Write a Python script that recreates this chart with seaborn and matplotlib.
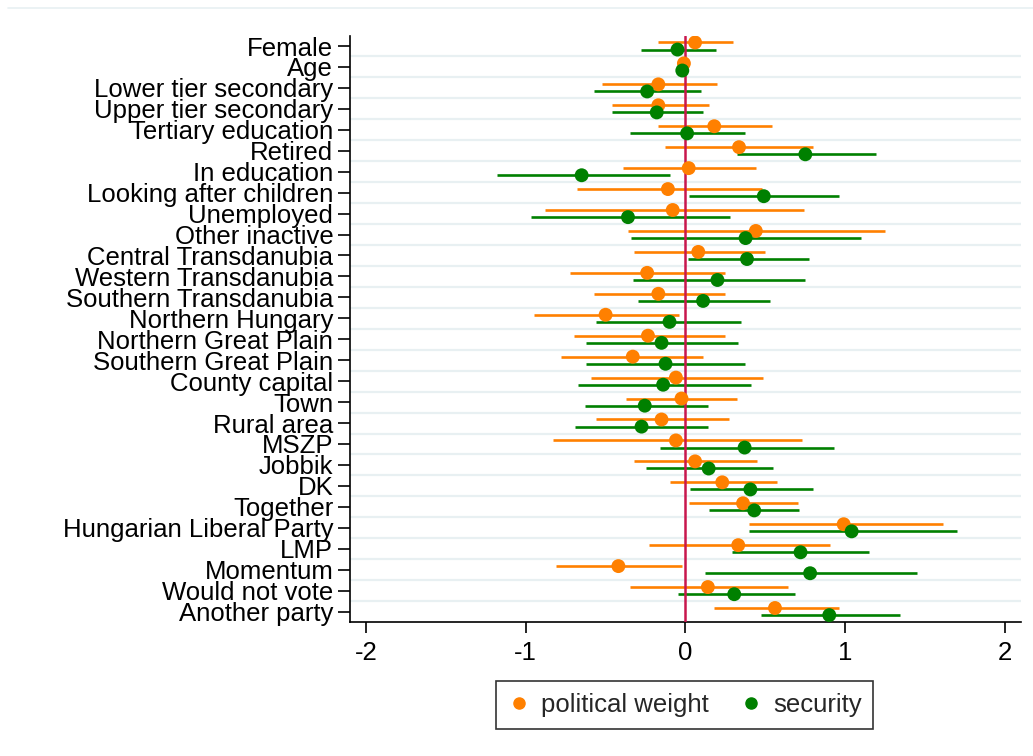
import numpy as np
import pandas as pd
import matplotlib
matplotlib.use("Agg")
import matplotlib.pyplot as plt
from matplotlib.lines import Line2D
import seaborn as sns

categories = ["Female", "Age", "Lower tier secondary", "Upper tier secondary",
              "Tertiary education", "Retired", "In education", "Looking after children",
              "Unemployed", "Other inactive", "Central Transdanubia", "Western Transdanubia",
              "Southern Transdanubia", "Northern Hungary", "Northern Great Plain",
              "Southern Great Plain", "County capital", "Town", "Rural area", "MSZP",
              "Jobbik", "DK", "Together", "Hungarian Liberal Party", "LMP", "Momentum",
              "Would not vote", "Another party"]

pw_coef = [0.06, -0.01, -0.17, -0.17, 0.18, 0.335, 0.02, -0.11, -0.08, 0.44,
           0.08, -0.24, -0.17, -0.50, -0.235, -0.33, -0.06, -0.025, -0.15, -0.06,
           0.06, 0.23, 0.36, 0.99, 0.33, -0.42, 0.14, 0.56]
pw_lo = [-0.175, -0.03, -0.52, -0.46, -0.17, -0.13, -0.39, -0.68, -0.88, -0.36,
         -0.32, -0.72, -0.57, -0.95, -0.70, -0.78, -0.59, -0.37, -0.56, -0.83,
         -0.32, -0.10, 0.02, 0.40, -0.23, -0.81, -0.35, 0.18]
pw_hi = [0.30, 0.01, 0.20, 0.15, 0.54, 0.80, 0.44, 0.48, 0.74, 1.25,
         0.50, 0.25, 0.25, -0.04, 0.25, 0.11, 0.485, 0.32, 0.275, 0.73,
         0.45, 0.57, 0.705, 1.61, 0.905, -0.02, 0.64, 0.96]

sec_coef = [-0.05, -0.02, -0.24, -0.18, 0.01, 0.75, -0.65, 0.49, -0.36, 0.376,
            0.385, 0.20, 0.11, -0.10, -0.15, -0.125, -0.14, -0.255, -0.275, 0.37,
            0.145, 0.406, 0.43, 1.04, 0.72, 0.78, 0.305, 0.90]
sec_lo = [-0.28, -0.04, -0.575, -0.46, -0.35, 0.32, -1.18, 0.02, -0.97, -0.34,
          0.016, -0.33, -0.30, -0.56, -0.62, -0.62, -0.67, -0.63, -0.69, -0.16,
          -0.25, 0.027, 0.15, 0.40, 0.29, 0.12, -0.05, 0.47]
sec_hi = [0.19, 0.00, 0.10, 0.11, 0.37, 1.19, -0.10, 0.96, 0.28, 1.10,
          0.77, 0.75, 0.53, 0.35, 0.33, 0.37, 0.41, 0.14, 0.14, 0.93,
          0.545, 0.80, 0.71, 1.70, 1.15, 1.45, 0.685, 1.34]

series_names = ["political weight", "security"]
colors = {"political weight": "#ff8000", "security": "#008000"}
offsets = {"political weight": -0.17, "security": 0.17}

rows = []
for name, coef, lo, hi in [("political weight", pw_coef, pw_lo, pw_hi),
                           ("security", sec_coef, sec_lo, sec_hi)]:
    for i, cat in enumerate(categories):
        rows.append({"category": cat, "idx": i, "series": name,
                     "coef": coef[i], "lo": lo[i], "hi": hi[i],
                     "pos": i + offsets[name]})
df = pd.DataFrame(rows)

sns.set_theme(style="white")
plt.rcParams["font.family"] = ["Liberation Sans", "DejaVu Sans"]

fig = plt.figure(figsize=(10.33, 7.56), dpi=100)
ax = fig.add_axes([0.3388, 0.1772, 0.6496, 0.7758])

# gridlines between categories
for k in range(len(categories) - 1):
    ax.axhline(k + 0.5, color="#e8f0f2", lw=1.6, zorder=0)

# confidence intervals
for name in series_names:
    sub = df[df["series"] == name]
    ax.hlines(sub["pos"], sub["lo"], sub["hi"], color=colors[name], lw=1.9, zorder=2)

ax.axvline(0, color="#c8174d", lw=1.8, zorder=3)

sns.scatterplot(data=df, x="coef", y="pos", hue="series", palette=colors,
                hue_order=series_names, marker="o", s=100, linewidth=0,
                ax=ax, zorder=4, legend=False)

ax.set_ylim(len(categories) - 0.5, -0.5)
ax.set_xlim(-2.1, 2.1)
ax.set_yticks(range(len(categories)))
ax.set_yticklabels(categories)
ax.set_xticks([-2, -1, 0, 1, 2])
ax.set_xticklabels(["-2", "-1", "0", "1", "2"])
ax.set_xlabel("")
ax.set_ylabel("")
ax.tick_params(axis="y", labelsize=18.5, length=9, width=1.2, color="black", pad=3, left=True)
ax.tick_params(axis="x", labelsize=18.5, length=8, width=1.2, color="black", pad=6, bottom=True)
for lab in ax.get_yticklabels() + ax.get_xticklabels():
    lab.set_color("black")

ax.spines["top"].set_visible(False)
ax.spines["right"].set_visible(False)
for s in ["left", "bottom"]:
    ax.spines[s].set_color("black")
    ax.spines[s].set_linewidth(1.2)

handles = [Line2D([], [], marker="o", ls="", color=colors[n], markersize=8) for n in series_names]
leg = fig.legend(handles, series_names, loc="center", bbox_to_anchor=(0.663, 0.0675),
                 ncol=2, frameon=True, fontsize=18.5, handletextpad=0.4,
                 columnspacing=1.2, borderpad=0.45, handlelength=0.9, borderaxespad=0)
leg.get_frame().set_edgecolor("black")
leg.get_frame().set_linewidth(1.2)
leg.get_frame().set_boxstyle("square", pad=0)

fig.add_artist(Line2D([0.008, 1.0], [0.989, 0.989], color="#e8f0f2", lw=1.2))

fig.savefig("out.png", dpi=100)
